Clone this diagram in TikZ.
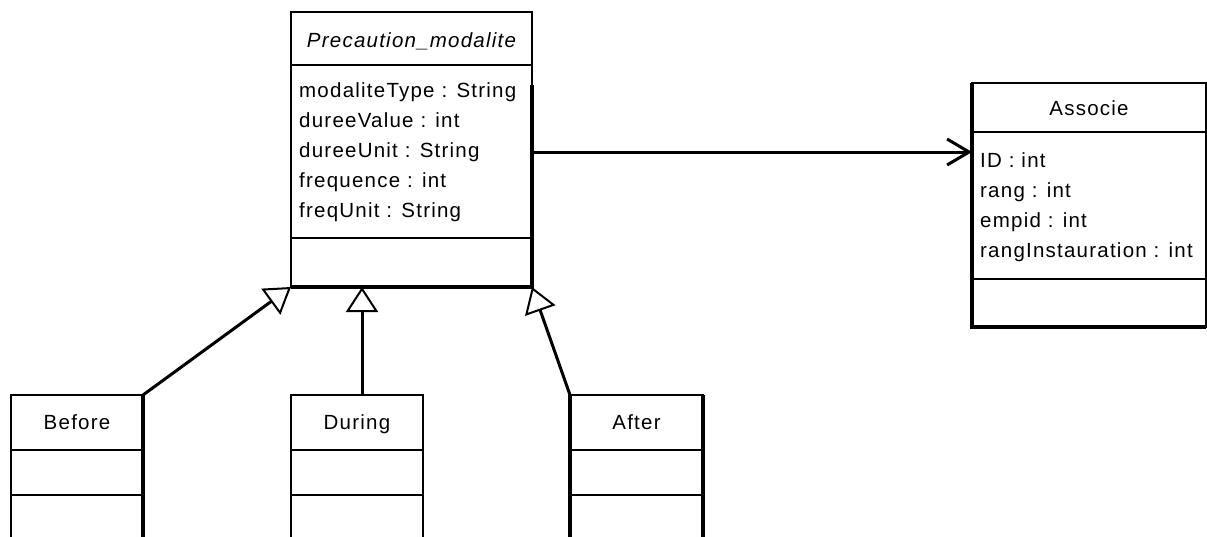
\documentclass[tikz,border=0pt]{standalone}
\usepackage{fontspec}
\setmainfont{Liberation Sans}[LetterSpace=6]
\usetikzlibrary{arrows.meta}

\tikzset{
	classbox/.style={draw, line width=2pt, anchor=north west, inner sep=0pt, outer sep=0pt},
	heavy/.style={line width=4pt},
	cname/.style={anchor=base, inner sep=0pt, font=\fontsize{20.5}{30}\selectfont},
	attrs/.style={anchor=north west, inner sep=0pt, align=left, font=\fontsize{20.5}{30}\selectfont},
	gen/.style={line width=3pt, -{Triangle[open, length=25pt, width=32pt, line width=2pt]}},
	assoc/.style={line width=3pt, -{Straight Barb[length=22pt, width=26pt]}}
}

\begin{document}
\begin{tikzpicture}[x=1pt, y=-1pt]
		\useasboundingbox (0,0) rectangle (1207,536);
		\clip (0,0) rectangle (1207,536);
		\fill[white] (0,0) rectangle (1207,536);
		\node[classbox, minimum width=241pt, minimum height=275pt] (prec) at (291,12) {};
		\node[classbox, minimum width=234pt, minimum height=244pt] (assoc) at (972,83) {};
		\node[classbox, minimum width=132pt, minimum height=200pt] (before) at (11,395) {};
		\node[classbox, minimum width=132pt, minimum height=200pt] (during) at (291,395) {};
		\node[classbox, minimum width=133pt, minimum height=200pt] (after) at (570,395) {};
		\draw[line width=2pt] (prec.west |- 0,65) -- (prec.east |- 0,65);
		\draw[line width=2pt] (prec.west |- 0,238) -- (prec.east |- 0,238);
		\draw[line width=2pt] (assoc.west |- 0,132) -- (assoc.east |- 0,132);
		\draw[line width=2pt] (assoc.west |- 0,279) -- (assoc.east |- 0,279);
		\draw[line width=2pt] (before.west |- 0,450) -- (before.east |- 0,450);
		\draw[line width=2pt] (before.west |- 0,495) -- (before.east |- 0,495);
		\draw[line width=2pt] (during.west |- 0,450) -- (during.east |- 0,450);
		\draw[line width=2pt] (during.west |- 0,495) -- (during.east |- 0,495);
		\draw[line width=2pt] (after.west |- 0,450) -- (after.east |- 0,450);
		\draw[line width=2pt] (after.west |- 0,495) -- (after.east |- 0,495);
		\draw[heavy] (prec.east |- 0,85) -- (prec.south east) -- (prec.south west);
		\draw[heavy] (assoc.north west) -- (assoc.south west) -- (assoc.south east);
		\draw[heavy] (before.north east) -- (before.south east);
		\draw[heavy] (after.north west) -- (after.south west);
		\draw[heavy] (after.north east) -- (after.south east);
		\node[cname] (prec-name) at (prec.north |- 0,47) {\itshape Precaution\_modalite};
		\node[attrs] (prec-attrs) at (299,82) {modaliteType : String\\dureeValue : int\\dureeUnit : String\\frequence : int\\freqUnit : String};
		\node[cname] (assoc-name) at (assoc.north |- 0,115) {Associe};
		\node[attrs] (assoc-attrs) at (980,152) {ID : int\\rang : int\\empid : int\\rangInstauration : int};
		\node[cname] (before-name) at (before.north |- 0,429) {Before};
		\node[cname] (during-name) at (during.north |- 0,429) {During};
		\node[cname] (after-name) at (after.north |- 0,429) {After};
		\draw[assoc] (prec.east |- 0,152) -- (assoc.west |- 0,152);
		\draw[gen] (before.north east) -- (prec.south west);
		\draw[gen] ([xshift=5pt]during.north) -- ([xshift=5pt]during.north |- prec.south);
		\draw[gen] (after.north west) -- (prec.south east);
	\end{tikzpicture}
\end{document}
